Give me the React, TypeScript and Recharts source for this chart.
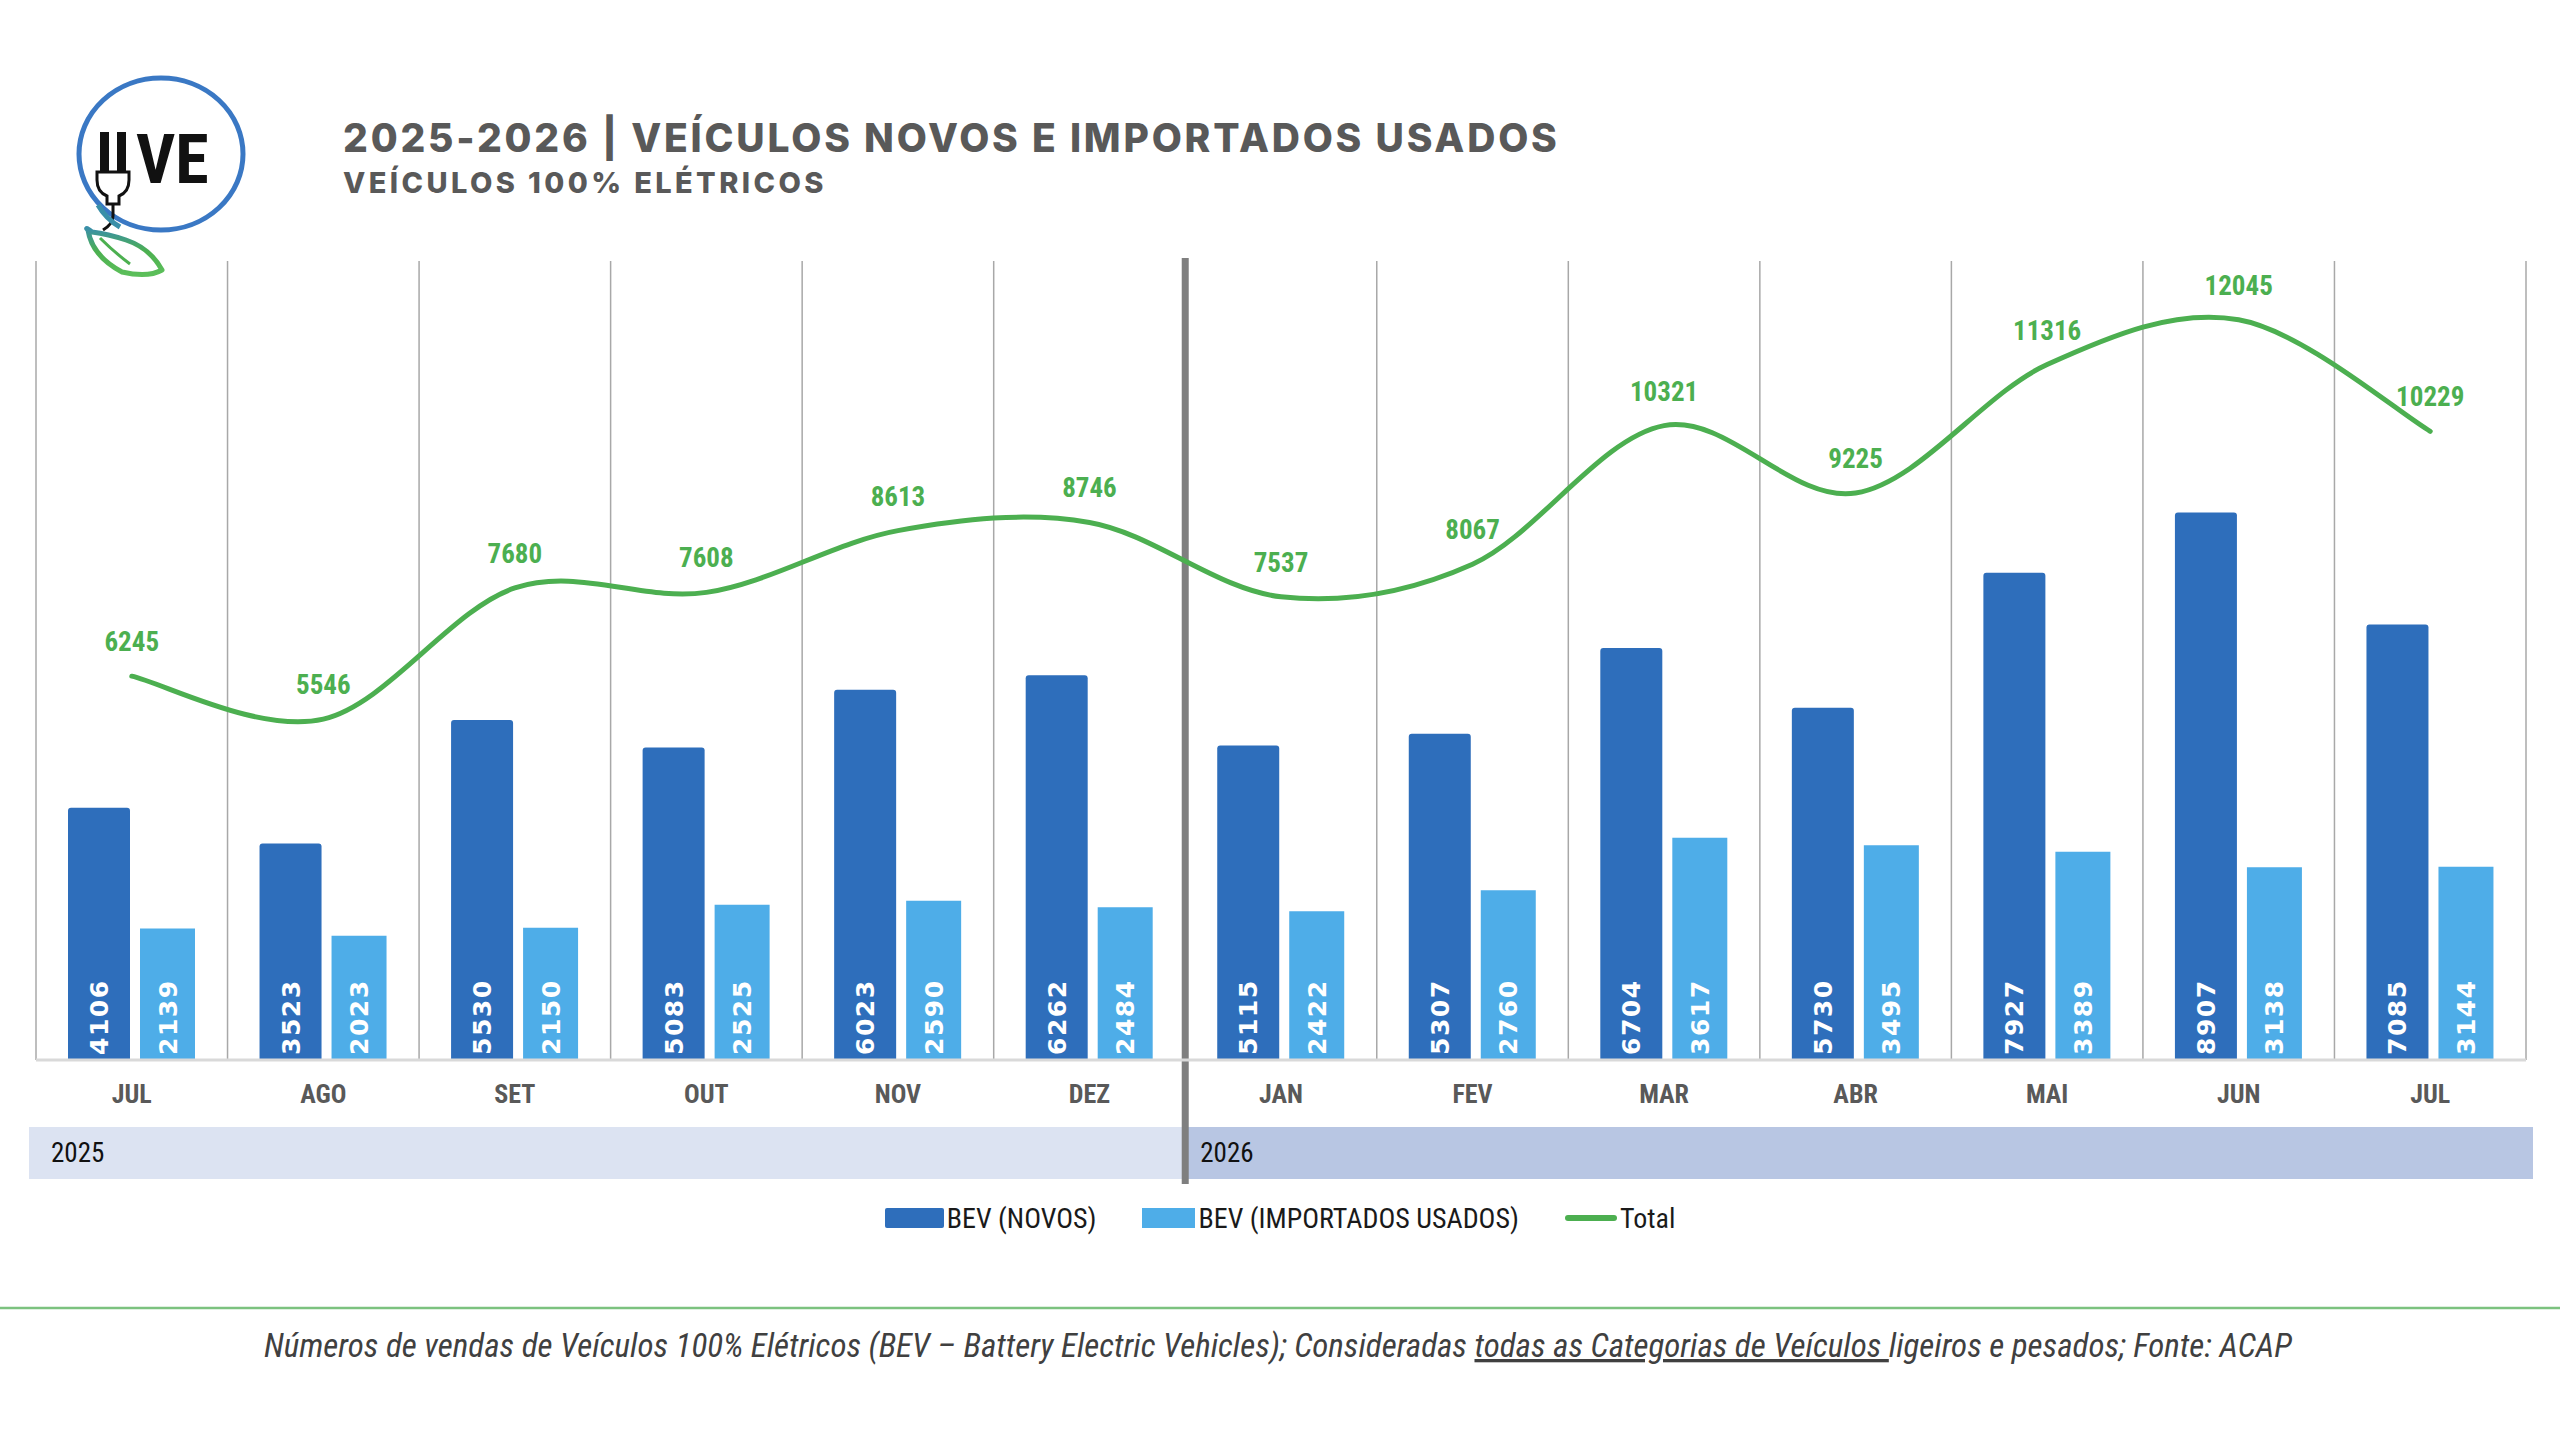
import React from "react"
import { ComposedChart, Bar, Line, XAxis, YAxis, LabelList, ReferenceLine, ReferenceArea } from "recharts"

const months = ["JUL", "AGO", "SET", "OUT", "NOV", "DEZ", "JAN", "FEV", "MAR", "ABR", "MAI", "JUN", "JUL"]
const novos = [4106, 3523, 5530, 5083, 6023, 6262, 5115, 5307, 6704, 5730, 7927, 8907, 7085]
const usados = [2139, 2023, 2150, 2525, 2590, 2484, 2422, 2760, 3617, 3495, 3389, 3138, 3144]
const totals = [6245, 5546, 7680, 7608, 8613, 8746, 7537, 8067, 10321, 9225, 11316, 12045, 10229]
const years = [
  { label: "2025", from: 0, to: 5, fill: "#dce3f2" },
  { label: "2026", from: 6, to: 12, fill: "#b8c6e3" },
]

const ids = months.map((m, i) => `${m}-${i}`)
const data = months.map((m, i) => ({ id: ids[i], novos: novos[i], usados: usados[i], total: totals[i] }))

const NARROW = "'Liberation Sans Narrow', 'Roboto Condensed', 'Liberation Sans', sans-serif"
const DARK = "#2e6ebb"
const LIGHT = "#4eade8"
const GREEN = "#4caf50"
const GRID = "#a8a8a8"

// Excel-like smoothed line: bezier segments with tangents (next - prev) / 6
const excelSmooth = (context: any) => {
  let pts: number[][] = []
  return {
    areaStart() {},
    areaEnd() {},
    lineStart() {
      pts = []
    },
    point(x: number, y: number) {
      pts.push([+x, +y])
    },
    lineEnd() {
      if (!pts.length) return
      context.moveTo(pts[0][0], pts[0][1])
      for (let i = 0; i < pts.length - 1; i++) {
        const p0 = pts[i - 1] || pts[i]
        const p1 = pts[i]
        const p2 = pts[i + 1]
        const p3 = pts[i + 2] || p2
        context.bezierCurveTo(
          p1[0] + (p2[0] - p0[0]) / 6,
          p1[1] + (p2[1] - p0[1]) / 6,
          p2[0] - (p3[0] - p1[0]) / 6,
          p2[1] - (p3[1] - p1[1]) / 6,
          p2[0],
          p2[1]
        )
      }
    },
  }
}

const MonthTick = (props: any) => {
  const { x, y, index } = props
  return (
    <text x={x} y={y + 43} textAnchor="middle" fontFamily={NARROW} fontWeight="bold" fontSize={26} fill="#595959">
      {months[index]}
    </text>
  )
}

const BarValue = (props: any) => {
  const { x, y, width, height, value } = props
  const cx = x + width / 2
  const by = y + height - 5
  return (
    <text
      x={cx}
      y={by}
      dy="0.36em"
      transform={`rotate(-90 ${cx} ${by})`}
      textAnchor="start"
      fontFamily="'DejaVu Sans', sans-serif"
      fontWeight="bold"
      fontSize={25}
      letterSpacing={1.5}
      fill="#ffffff"
    >
      {value}
    </text>
  )
}

const TotalValue = (props: any) => {
  const { x, y, value } = props
  return (
    <text x={x} y={y - 25} textAnchor="middle" fontFamily={NARROW} fontWeight="bold" fontSize={27} fill={GREEN}>
      {value}
    </text>
  )
}

// year band below the month labels; the 2026 band also carries the thick divider
const yearBand = (label: string, fill: string, first: boolean, last: boolean) => (props: any) => {
  const { x, y, width, height } = props
  const left = first ? x - 7 : x
  const right = last ? x + width + 7 : x + width
  const top = y + height + 67
  return (
    <g>
      <rect x={left} y={top} width={right - left} height={52} fill={fill} />
      <text x={x + 15} y={top + 35} fontFamily={NARROW} fontSize={27} fill="#111">
        {label}
      </text>
      {!first && <line x1={x} x2={x} y1={y - 3} y2={top + 57} stroke="#7f7f7f" strokeWidth={7} />}
    </g>
  )
}

function Logo() {
  return (
    <g>
      <defs>
        <linearGradient id="leafGrad" x1="0" y1="0" x2="0" y2="1">
          <stop offset="0%" stopColor="#3a8fa8" />
          <stop offset="50%" stopColor="#4cb050" />
          <stop offset="100%" stopColor="#5cbf5a" />
        </linearGradient>
      </defs>
      <ellipse cx={161} cy={154} rx={82} ry={76} fill="none" stroke="#3a78c4" strokeWidth={5} />
      <rect x={100} y={132} width={9} height={42} fill="#111" />
      <rect x={117} y={132} width={9} height={42} fill="#111" />
      <path d="M97 172 h32 v8 q0 12 -10 16 v8 h-12 v-8 q-10 -4 -10 -16 z" fill="#fff" stroke="#111" strokeWidth={3} />
      <path d="M113 204 v12 q0 8 -10 14" fill="none" stroke="#111" strokeWidth={3} />
      <text x={136} y={183} fontFamily={NARROW} fontWeight="bold" fontSize={68} fill="#111">
        VE
      </text>
      <path
        d="M92 232 q-8 -6 -4 -2 q4 26 34 42 q26 6 40 -2 q-12 -22 -36 -30 q-18 -6 -34 -8 z"
        fill="none"
        stroke="url(#leafGrad)"
        strokeWidth={5}
        strokeLinejoin="round"
      />
      <path d="M100 238 q14 14 30 26" fill="none" stroke="#4cb050" strokeWidth={3} />
      <path d="M98 205 q8 14 22 22" fill="none" stroke="#3a8fa8" strokeWidth={5} />
    </g>
  )
}

function LegendRow() {
  const item = (swatch: React.ReactNode, label: string) => (
    <div style={{ display: "flex", alignItems: "center", marginRight: 46 }}>
      {swatch}
      <span style={{ marginLeft: 3 }}>{label}</span>
    </div>
  )
  return (
    <div
      style={{
        position: "absolute",
        left: 0,
        top: 1201,
        width: 2560,
        height: 34,
        display: "flex",
        justifyContent: "center",
        alignItems: "center",
        fontFamily: NARROW,
        fontSize: 28,
        color: "#1a1a1a",
        paddingLeft: 46,
        boxSizing: "border-box",
      }}
    >
      {item(<div style={{ width: 59, height: 20, background: DARK, borderRadius: 2 }} />, "BEV (NOVOS)")}
      {item(<div style={{ width: 53, height: 20, background: LIGHT }} />, "BEV (IMPORTADOS USADOS)")}
      {item(<div style={{ width: 52, height: 6, background: GREEN, borderRadius: 3 }} />, "Total")}
    </div>
  )
}

export default function App() {
  return (
    <div style={{ position: "absolute", left: 0, top: 0, width: 2560, height: 1439, background: "#fff", overflow: "hidden" }}>
      <ComposedChart
        width={2560}
        height={1439}
        data={data}
        margin={{ top: 261, right: 34, bottom: 319, left: 36 }}
        barGap={10}
      >
        <XAxis
          dataKey="id"
          type="category"
          height={60}
          tickSize={0}
          tickMargin={0}
          axisLine={{ stroke: "#d9d9d9", strokeWidth: 3 }}
          tickLine={false}
          tick={<MonthTick />}
          interval={0}
        />
        <YAxis hide domain={[0, 13000]} />
        {ids.map((id, i) =>
          i === 6 ? null : <ReferenceLine key={id} x={id} position="start" stroke={GRID} strokeWidth={1.5} />
        )}
        <ReferenceLine x={ids[ids.length - 1]} position="end" stroke={GRID} strokeWidth={1.5} />
        <Bar dataKey="novos" fill={DARK} barSize={62} radius={[3, 3, 0, 0]} isAnimationActive={false}>
          <LabelList dataKey="novos" content={<BarValue />} />
        </Bar>
        <Bar dataKey="usados" fill={LIGHT} barSize={55} isAnimationActive={false}>
          <LabelList dataKey="usados" content={<BarValue />} />
        </Bar>
        <Line
          dataKey="total"
          type={excelSmooth as any}
          stroke={GREEN}
          strokeWidth={5}
          strokeLinecap="round"
          dot={false}
          activeDot={false}
          isAnimationActive={false}
        >
          <LabelList dataKey="total" content={<TotalValue />} />
        </Line>
        {years.map((yr, i) => (
          <ReferenceArea
            key={yr.label}
            x1={ids[yr.from]}
            x2={ids[yr.to]}
            fill="none"
            ifOverflow="visible"
            shape={yearBand(yr.label, yr.fill, i === 0, i === years.length - 1)}
          />
        ))}
      </ComposedChart>

      <svg width={2560} height={1439} style={{ position: "absolute", left: 0, top: 0, pointerEvents: "none" }}>
        <Logo />
        <text x={343} y={152} fontFamily="Inter, 'Open Sans', sans-serif" fontWeight={800} fontSize={39} letterSpacing={2.8} fill="#595959">
          2025-2026 | VEÍCULOS NOVOS E IMPORTADOS USADOS
        </text>
        <text x={343} y={193} fontFamily="Inter, 'Open Sans', sans-serif" fontWeight={800} fontSize={29} letterSpacing={3.4} fill="#595959">
          VEÍCULOS 100% ELÉTRICOS
        </text>
        <line x1={0} x2={2560} y1={1308} y2={1308} stroke="#7cc27f" strokeWidth={2.5} />
        <text x={1278} y={1357} textAnchor="middle" fontFamily={NARROW} fontStyle="italic" fontSize={33} fill="#404040">
          Números de vendas de Veículos 100% Elétricos (BEV – Battery Electric Vehicles); Consideradas{" "}
          <tspan style={{ textDecoration: "underline" }}>todas as Categorias de Veículos </tspan>
          ligeiros e pesados; Fonte: ACAP
        </text>
      </svg>
      <LegendRow />
    </div>
  )
}
